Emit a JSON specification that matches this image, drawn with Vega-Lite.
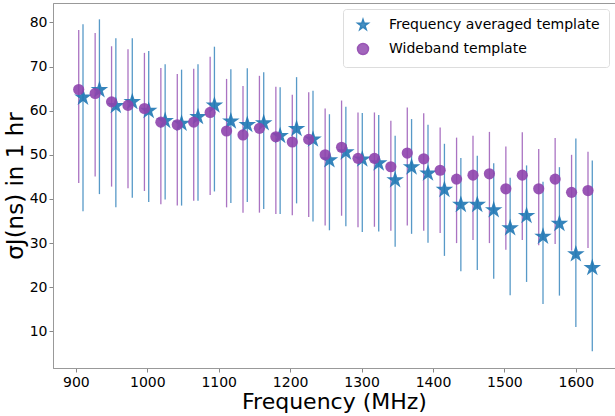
{
  "$schema": "https://vega.github.io/schema/vega-lite/v6.json",
  "width": 562,
  "height": 365,
  "autosize": {"type": "none"},
  "padding": {"left": 53, "top": 3, "right": 0, "bottom": 48},
  "config": {
    "font": "DejaVu Sans",
    "view": {"stroke": "#999", "strokeWidth": 1},
    "axis": {"grid": false, "labelFont": "DejaVu Sans", "titleFont": "DejaVu Sans", "labelColor": "#000", "titleColor": "#000", "tickColor": "#888", "domainColor": "#999", "labelFontSize": 14, "titleFontWeight": "normal", "titleFontSize": 22, "tickSize": 4},
    "legend": {"labelFont": "DejaVu Sans", "labelFontSize": 14, "labelColor": "#000"}
  },
  "datasets": {
    "pts": [
      {"template": "Frequency averaged template", "freq": 910, "sigma": 63.0, "lo": 37.2, "hi": 79.6},
      {"template": "Frequency averaged template", "freq": 933, "sigma": 64.7, "lo": 41.1, "hi": 80.7},
      {"template": "Frequency averaged template", "freq": 956, "sigma": 61.1, "lo": 38.1, "hi": 76.4},
      {"template": "Frequency averaged template", "freq": 979, "sigma": 62.0, "lo": 40.3, "hi": 76.4},
      {"template": "Frequency averaged template", "freq": 1002, "sigma": 60.0, "lo": 39.3, "hi": 73.5},
      {"template": "Frequency averaged template", "freq": 1025, "sigma": 57.7, "lo": 39.9, "hi": 70.5},
      {"template": "Frequency averaged template", "freq": 1048, "sigma": 57.1, "lo": 38.5, "hi": 69.3},
      {"template": "Frequency averaged template", "freq": 1071, "sigma": 58.6, "lo": 39.6, "hi": 70.5},
      {"template": "Frequency averaged template", "freq": 1094, "sigma": 61.2, "lo": 41.7, "hi": 74.5},
      {"template": "Frequency averaged template", "freq": 1117, "sigma": 57.6, "lo": 39.1, "hi": 69.4},
      {"template": "Frequency averaged template", "freq": 1140, "sigma": 56.8, "lo": 39.3, "hi": 69.6},
      {"template": "Frequency averaged template", "freq": 1163, "sigma": 57.2, "lo": 37.7, "hi": 68.7},
      {"template": "Frequency averaged template", "freq": 1186, "sigma": 54.3, "lo": 36.6, "hi": 65.3},
      {"template": "Frequency averaged template", "freq": 1209, "sigma": 55.9, "lo": 39.0, "hi": 67.6},
      {"template": "Frequency averaged template", "freq": 1232, "sigma": 53.5, "lo": 34.9, "hi": 64.5},
      {"template": "Frequency averaged template", "freq": 1255, "sigma": 48.8, "lo": 32.9, "hi": 59.2},
      {"template": "Frequency averaged template", "freq": 1278, "sigma": 50.6, "lo": 33.8, "hi": 60.9},
      {"template": "Frequency averaged template", "freq": 1301, "sigma": 49.0, "lo": 32.5, "hi": 59.5},
      {"template": "Frequency averaged template", "freq": 1324, "sigma": 48.1, "lo": 32.6, "hi": 59.0},
      {"template": "Frequency averaged template", "freq": 1347, "sigma": 44.3, "lo": 29.2, "hi": 54.3},
      {"template": "Frequency averaged template", "freq": 1370, "sigma": 47.2, "lo": 32.1, "hi": 58.1},
      {"template": "Frequency averaged template", "freq": 1393, "sigma": 45.8, "lo": 30.1, "hi": 56.8},
      {"template": "Frequency averaged template", "freq": 1416, "sigma": 42.1, "lo": 27.1, "hi": 52.5},
      {"template": "Frequency averaged template", "freq": 1439, "sigma": 38.7, "lo": 23.6, "hi": 49.3},
      {"template": "Frequency averaged template", "freq": 1462, "sigma": 38.7, "lo": 23.9, "hi": 49.8},
      {"template": "Frequency averaged template", "freq": 1485, "sigma": 37.5, "lo": 21.9, "hi": 48.1},
      {"template": "Frequency averaged template", "freq": 1508, "sigma": 33.4, "lo": 18.2, "hi": 44.8},
      {"template": "Frequency averaged template", "freq": 1531, "sigma": 36.2, "lo": 21.2, "hi": 47.6},
      {"template": "Frequency averaged template", "freq": 1554, "sigma": 31.5, "lo": 16.2, "hi": 43.9},
      {"template": "Frequency averaged template", "freq": 1577, "sigma": 34.4, "lo": 18.1, "hi": 47.2},
      {"template": "Frequency averaged template", "freq": 1600, "sigma": 27.5, "lo": 11.0, "hi": 53.7},
      {"template": "Frequency averaged template", "freq": 1623, "sigma": 24.4, "lo": 5.5, "hi": 48.7},
      {"template": "Wideband template", "freq": 904, "sigma": 64.8, "lo": 43.6, "hi": 78.3},
      {"template": "Wideband template", "freq": 927, "sigma": 63.9, "lo": 45.1, "hi": 77.6},
      {"template": "Wideband template", "freq": 950, "sigma": 62.0, "lo": 42.8, "hi": 74.6},
      {"template": "Wideband template", "freq": 973, "sigma": 61.2, "lo": 42.4, "hi": 73.9},
      {"template": "Wideband template", "freq": 996, "sigma": 60.5, "lo": 41.8, "hi": 73.1},
      {"template": "Wideband template", "freq": 1019, "sigma": 57.4, "lo": 38.8, "hi": 69.7},
      {"template": "Wideband template", "freq": 1042, "sigma": 56.8, "lo": 38.5, "hi": 68.3},
      {"template": "Wideband template", "freq": 1065, "sigma": 57.4, "lo": 39.6, "hi": 69.5},
      {"template": "Wideband template", "freq": 1088, "sigma": 59.6, "lo": 40.9, "hi": 72.2},
      {"template": "Wideband template", "freq": 1111, "sigma": 55.4, "lo": 38.1, "hi": 67.2},
      {"template": "Wideband template", "freq": 1134, "sigma": 54.5, "lo": 36.9, "hi": 65.6},
      {"template": "Wideband template", "freq": 1157, "sigma": 56.0, "lo": 36.9, "hi": 67.9},
      {"template": "Wideband template", "freq": 1180, "sigma": 54.1, "lo": 36.6, "hi": 65.4},
      {"template": "Wideband template", "freq": 1203, "sigma": 52.9, "lo": 36.3, "hi": 63.6},
      {"template": "Wideband template", "freq": 1226, "sigma": 53.5, "lo": 35.9, "hi": 64.2},
      {"template": "Wideband template", "freq": 1249, "sigma": 50.0, "lo": 34.0, "hi": 60.5},
      {"template": "Wideband template", "freq": 1272, "sigma": 51.7, "lo": 36.2, "hi": 62.3},
      {"template": "Wideband template", "freq": 1295, "sigma": 49.2, "lo": 33.6, "hi": 59.6},
      {"template": "Wideband template", "freq": 1318, "sigma": 49.2, "lo": 33.7, "hi": 59.6},
      {"template": "Wideband template", "freq": 1341, "sigma": 47.3, "lo": 32.8, "hi": 57.7},
      {"template": "Wideband template", "freq": 1364, "sigma": 50.4, "lo": 34.0, "hi": 60.7},
      {"template": "Wideband template", "freq": 1387, "sigma": 49.1, "lo": 32.8, "hi": 59.4},
      {"template": "Wideband template", "freq": 1410, "sigma": 46.5, "lo": 32.3, "hi": 56.2},
      {"template": "Wideband template", "freq": 1433, "sigma": 44.5, "lo": 30.0, "hi": 53.9},
      {"template": "Wideband template", "freq": 1456, "sigma": 45.4, "lo": 30.7, "hi": 54.3},
      {"template": "Wideband template", "freq": 1479, "sigma": 45.7, "lo": 30.0, "hi": 55.2},
      {"template": "Wideband template", "freq": 1502, "sigma": 42.3, "lo": 28.5, "hi": 51.9},
      {"template": "Wideband template", "freq": 1525, "sigma": 45.4, "lo": 30.7, "hi": 55.1},
      {"template": "Wideband template", "freq": 1548, "sigma": 42.3, "lo": 29.5, "hi": 51.3},
      {"template": "Wideband template", "freq": 1571, "sigma": 44.5, "lo": 29.8, "hi": 53.8},
      {"template": "Wideband template", "freq": 1594, "sigma": 41.5, "lo": 28.3, "hi": 50.0},
      {"template": "Wideband template", "freq": 1617, "sigma": 41.9, "lo": 28.9, "hi": 50.7}
    ]
  },
  "data": {"name": "pts"},
  "encoding": {
    "x": {"field": "freq", "type": "quantitative", "scale": {"domain": [868, 1654.8], "nice": false, "zero": false},
      "axis": {"values": [900, 1000, 1100, 1200, 1300, 1400, 1500, 1600], "format": "d", "title": "Frequency (MHz)", "labelPadding": 3, "titlePadding": 2}},
    "color": {"field": "template", "type": "nominal",
      "scale": {"domain": ["Frequency averaged template", "Wideband template"], "range": ["#1f77b4", "#8e44ad"]},
      "legend": {"title": null, "orient": "top-right", "offset": 6, "fillColor": "white", "strokeColor": "#ddd", "padding": 9, "cornerRadius": 3, "rowPadding": 7, "symbolOffset": 4, "labelOffset": 19, "labelLimit": 400, "symbolSize": 120, "symbolOpacity": 0.9}}
  },
  "layer": [
    {
      "mark": {"type": "rule", "strokeWidth": 1.3, "opacity": 0.75},
      "encoding": {
        "y": {"field": "lo", "type": "quantitative", "scale": {"domain": [1.7, 84.4], "nice": false, "zero": false},
          "axis": {"values": [10, 20, 30, 40, 50, 60, 70, 80], "title": "σJ(ns) in 1 hr", "titleFontSize": 23, "labelPadding": 2, "titlePadding": 2}},
        "y2": {"field": "hi"}
      }
    },
    {
      "transform": [{"filter": "datum.template === 'Frequency averaged template'"}],
      "mark": {"type": "point", "filled": true, "opacity": 0.9, "size": 340},
      "encoding": {
        "y": {"field": "sigma", "type": "quantitative"},
        "shape": {"field": "template", "type": "nominal",
          "scale": {"domain": ["Frequency averaged template", "Wideband template"], "range": ["M0,-1L0.2245,-0.309L0.9511,-0.309L0.3633,0.118L0.5878,0.809L0,0.382L-0.5878,0.809L-0.3633,0.118L-0.9511,-0.309L-0.2245,-0.309Z", "circle"]}}
      }
    },
    {
      "transform": [{"filter": "datum.template === 'Wideband template'"}],
      "mark": {"type": "point", "filled": true, "opacity": 0.9, "size": 125},
      "encoding": {
        "y": {"field": "sigma", "type": "quantitative"},
        "shape": {"field": "template", "type": "nominal"}
      }
    }
  ]
}
